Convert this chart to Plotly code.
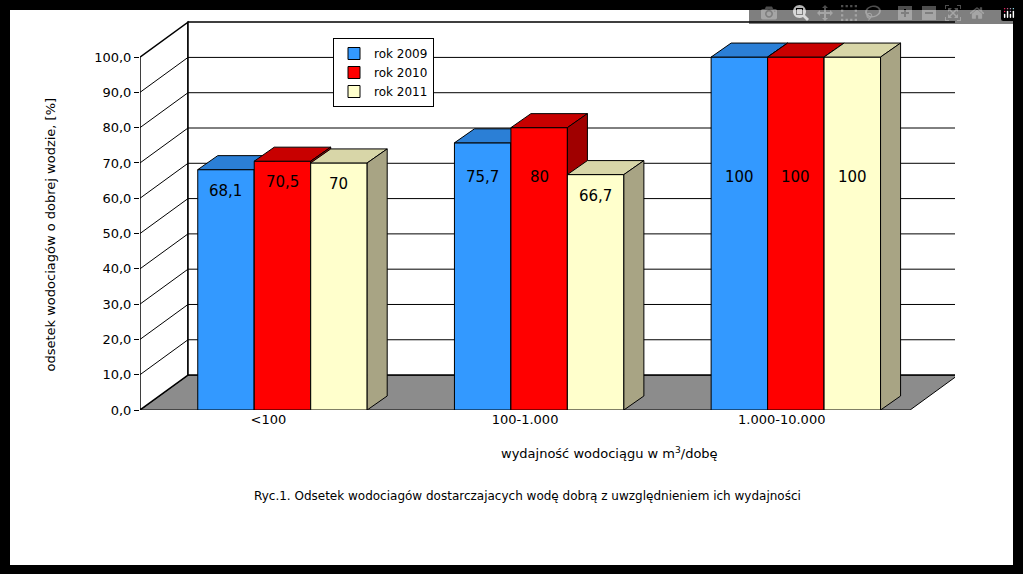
import plotly.graph_objects as go

categories = ["<100", "100-1.000", "1.000-10.000"]
series_names = ["rok 2009", "rok 2010", "rok 2011"]
v2009 = [68.1, 75.7, 100]
v2010 = [70.5, 80, 100]
v2011 = [70, 66.7, 100]
labels2009 = ["68,1", "75,7", "100"]
labels2010 = ["70,5", "80", "100"]
labels2011 = ["70", "66,7", "100"]
yticks = [0, 10, 20, 30, 40, 50, 60, 70, 80, 90, 100]

front_cols = ["#3399FF", "#FF0000", "#FFFFCC"]
top_cols = ["#2B7FD6", "#C80000", "#D8D6A8"]
side_cols = ["#1F66B0", "#A00000", "#A8A484"]

D, DY = 0.187, 9.9        # wall depth offset (data units)
bd, bdy = 0.078, 3.97     # bar depth offset
bw = 0.22
offsets = [-0.165, 0.055, 0.275]

fig = go.Figure()
FONT = "DejaVu Sans"

shapes = []
shapes.append(dict(type="rect", xref="paper", yref="paper",
                   x0=(10-140)/815, x1=(1013-140)/815, y0=(410-565)/390, y1=(410-10)/390,
                   fillcolor="white", line=dict(width=0), layer="below"))
shapes.append(dict(type="path", xref="x", yref="y", layer="below",
                   path=f"M -0.5 0 L 2.5 0 L {2.5+D} {DY} L {-0.5+D} {DY} Z",
                   fillcolor="#8C8C8C", line=dict(color="black", width=1)))
shapes.append(dict(type="path", xref="x", yref="y", layer="below",
                   path=f"M -0.5 0 L -0.5 100 L {-0.5+D} {100+DY} L {-0.5+D} {DY} Z",
                   fillcolor="white", line=dict(color="black", width=1.5)))
shapes.append(dict(type="rect", xref="x", yref="y", layer="below",
                   x0=-0.5+D, x1=2.5+D, y0=DY, y1=100+DY,
                   fillcolor="white", line=dict(color="black", width=1.5)))
for t in yticks[1:-1]:
    shapes.append(dict(type="path", xref="x", yref="y", layer="below",
                       path=f"M -0.5 {t} L {-0.5+D} {t+DY} L {2.5+D} {t+DY}",
                       line=dict(color="black", width=1)))

series = [v2009, v2010, v2011]
labels = [labels2009, labels2010, labels2011]
annotations = []
for si in range(3):
    fig.add_trace(go.Bar(x=[None], y=[None], name=series_names[si],
                         marker=dict(color=front_cols[si], line=dict(color="black", width=1))))
for ci in range(len(categories)):
    for si in range(3):
        v = series[si][ci]
        x0 = ci + offsets[si] - bw/2
        x1 = x0 + bw
        fig.add_trace(go.Scatter(x=[x0, x1, x1, x0, x0], y=[0, 0, v, v, 0], mode="lines",
                                 fill="toself", fillcolor=front_cols[si],
                                 line=dict(color="black", width=1),
                                 showlegend=False, hoverinfo="skip"))
        fig.add_trace(go.Scatter(x=[x0, x1, x1+bd, x0+bd, x0], y=[v, v, v+bdy, v+bdy, v],
                                 mode="lines", fill="toself", fillcolor=top_cols[si],
                                 line=dict(color="black", width=1), showlegend=False, hoverinfo="skip"))
        fig.add_trace(go.Scatter(x=[x1, x1+bd, x1+bd, x1, x1], y=[0, bdy, v+bdy, v, 0],
                                 mode="lines", fill="toself", fillcolor=side_cols[si],
                                 line=dict(color="black", width=1), showlegend=False, hoverinfo="skip"))
        annotations.append(dict(x=(x0+x1)/2, y=min(v, 72)-6, xref="x", yref="y",
                                text=labels[si][ci], showarrow=False,
                                font=dict(size=15, color="black", family=FONT)))

annotations.append(dict(xref="paper", yref="paper", x=(720-140)/815, y=(410-463)/390,
                        text="wydajność wodociągu w m<sup>3</sup>/dobę", showarrow=False,
                        font=dict(size=13, family=FONT, color="black")))
annotations.append(dict(xref="paper", yref="paper", x=(527-140)/815, y=(410-505)/390,
                        text="Ryc.1. Odsetek wodociagów dostarczajacych wodę dobrą z uwzględnieniem ich wydajności",
                        showarrow=False, font=dict(size=12, family=FONT, color="black")))
annotations.append(dict(xref="paper", yref="paper", x=(40-140)/815, y=(410-235)/390,
                        text="odsetek wodociagów o dobrej wodzie, [%]", textangle=-90,
                        showarrow=False, font=dict(size=13, family=FONT, color="black")))

fig.update_layout(
    width=1023, height=574,
    margin=dict(l=140, r=68, t=20, b=164),
    paper_bgcolor="black", plot_bgcolor="rgba(0,0,0,0)",
    separators=", ",
    font=dict(family=FONT, size=13, color="black"),
    shapes=shapes, annotations=annotations,
    xaxis=dict(range=[-0.5, 2.675], tickvals=[0, 1, 2], ticktext=categories,
               showgrid=False, zeroline=False, showline=False, ticks="", fixedrange=True),
    yaxis=dict(range=[0, 110.5], tickvals=yticks, tickformat=".1f", showgrid=False,
               zeroline=False, showline=False, ticks="outside", ticklen=5, tickcolor="black"),
    legend=dict(x=(333-140)/815, y=(410-38)/390, xanchor="left", yanchor="top",
                bgcolor="white", bordercolor="black", borderwidth=1,
                font=dict(size=12, family=FONT), tracegroupgap=0),
    showlegend=True,
)
fig.write_html("out.html")
with open("out.html", encoding="utf-8") as f:
    html = f.read()
html = html.replace("<body>", '<body style="margin:0;overflow:hidden">', 1)
with open("out.html", "w", encoding="utf-8") as f:
    f.write(html)
